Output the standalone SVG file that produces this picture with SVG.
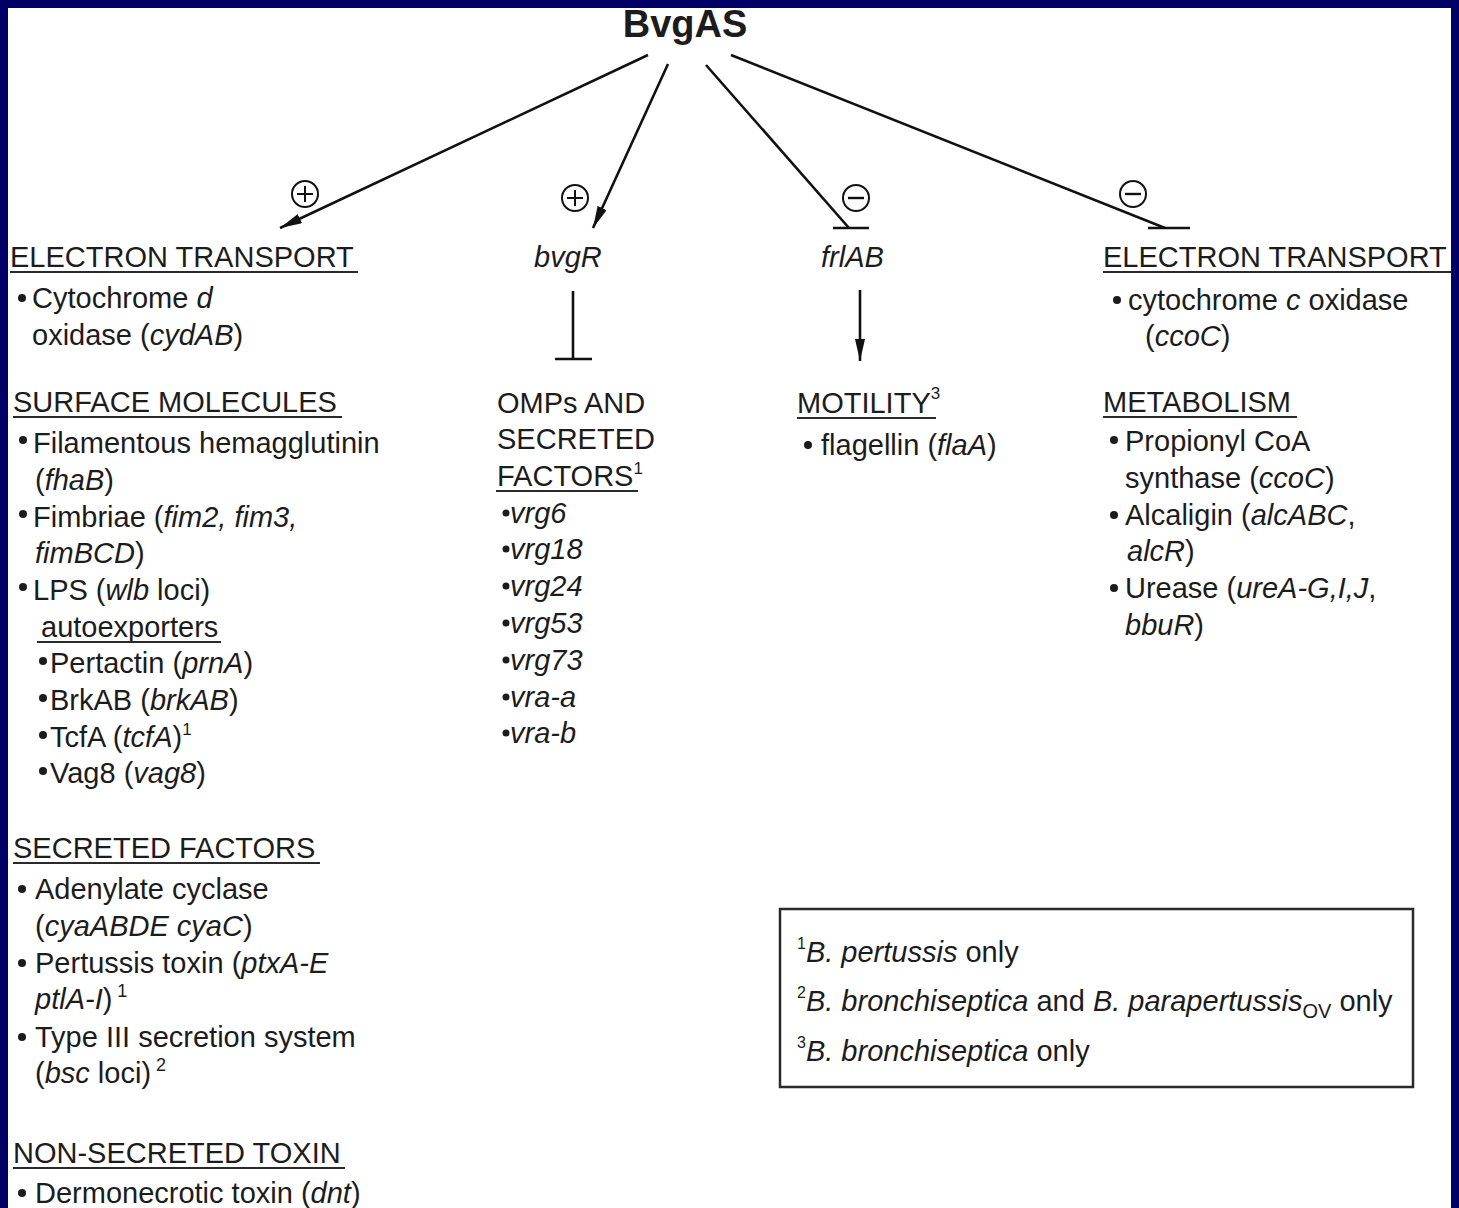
<svg xmlns="http://www.w3.org/2000/svg" width="1459" height="1208" viewBox="0 0 1459 1208">
  <defs>
    <style>
      .t { font-family: "Liberation Sans", Arial, sans-serif; font-size: 29px; fill: #1c1c1c; }
      .i { font-style: italic; }
      .title { font-family: "Liberation Sans", Arial, sans-serif; font-size: 38px; font-weight: bold; fill: #1c1c1c; }
      .ul { stroke: #2a2a2a; stroke-width: 1.8; }
      .edge { stroke: #111; stroke-width: 2.6; fill: none; }
      .sign { stroke: #111; stroke-width: 2; fill: #fff; }
      .dot { fill: #1c1c1c; }
    </style>
    <marker id="arrow" viewBox="0 0 22 10" refX="22" refY="5" markerWidth="22" markerHeight="10" markerUnits="userSpaceOnUse" orient="auto">
      <path d="M0,0 L22,5 L0,10 z" fill="#111"/>
    </marker>
  </defs>

  <!-- page -->
  <rect x="0" y="0" width="1459" height="1208" fill="#000066"/>
  <rect x="8" y="8" width="1443" height="1200" fill="#ffffff"/>

  <!-- regulator -->
  <g id="bvgas">
    <text class="title" x="685" y="37" text-anchor="middle">BvgAS</text>
  </g>

  <!-- connectors -->
  <g id="connectors">
    <line class="edge" x1="648" y1="55" x2="280" y2="228" marker-end="url(#arrow)"/>
    <line class="edge" x1="668" y1="64" x2="593" y2="228" marker-end="url(#arrow)"/>
    <line class="edge" x1="706" y1="65" x2="849" y2="228"/>
    <line class="edge" x1="833" y1="228" x2="869" y2="228" stroke-width="3"/>
    <line class="edge" x1="731" y1="55" x2="1165" y2="228"/>
    <line class="edge" x1="1148" y1="228" x2="1190" y2="228" stroke-width="3"/>
    <!-- bvgR represses -->
    <line class="edge" x1="573" y1="291" x2="573" y2="359"/>
    <line class="edge" x1="555" y1="359" x2="592" y2="359" stroke-width="3"/>
    <!-- frlAB activates -->
    <line class="edge" x1="860" y1="290" x2="860" y2="361" marker-end="url(#arrow)"/>
    <!-- sign labels -->
    <g id="sign-plus-1">
      <circle class="sign" cx="305" cy="194" r="13"/>
      <path d="M297,194 H313 M305,186 V202" stroke="#111" stroke-width="2"/>
    </g>
    <g id="sign-plus-2">
      <circle class="sign" cx="575" cy="198" r="13"/>
      <path d="M567,198 H583 M575,190 V206" stroke="#111" stroke-width="2"/>
    </g>
    <g id="sign-minus-1">
      <circle class="sign" cx="856" cy="198" r="13"/>
      <path d="M848,198 H864" stroke="#111" stroke-width="2.4"/>
    </g>
    <g id="sign-minus-2">
      <circle class="sign" cx="1133" cy="194" r="13"/>
      <path d="M1125,194 H1141" stroke="#111" stroke-width="2.4"/>
    </g>
  </g>

  <!-- Bvg+ activated genes -->
  <g id="node-activated">
    <text class="t" x="10" y="267">ELECTRON TRANSPORT</text>
    <line class="ul" x1="10" y1="272" x2="358" y2="272"/>
    <circle class="dot" cx="22" cy="298" r="4"/>
    <text class="t" x="32" y="308">Cytochrome <tspan class="i">d</tspan></text>
    <text class="t" x="32" y="345">oxidase (<tspan class="i">cydAB</tspan>)</text>

    <text class="t" x="13" y="412">SURFACE MOLECULES</text>
    <line class="ul" x1="13" y1="417" x2="342" y2="417"/>
    <circle class="dot" cx="23" cy="440" r="4"/>
    <text class="t" x="33" y="453">Filamentous hemagglutinin</text>
    <text class="t" x="35" y="490">(<tspan class="i">fhaB</tspan>)</text>
    <circle class="dot" cx="23" cy="514" r="4"/>
    <text class="t" x="33" y="527">Fimbriae (<tspan class="i">fim2, fim3,</tspan></text>
    <text class="t" x="35" y="563"><tspan class="i">fimBCD</tspan>)</text>
    <circle class="dot" cx="23" cy="587" r="4"/>
    <text class="t" x="33" y="600">LPS (<tspan class="i">wlb</tspan> loci)</text>
    <text class="t" x="41" y="637">autoexporters</text>
    <line class="ul" x1="37" y1="642" x2="221" y2="642"/>
    <circle class="dot" cx="43" cy="661" r="4"/>
    <text class="t" x="50" y="673">Pertactin (<tspan class="i">prnA</tspan>)</text>
    <circle class="dot" cx="43" cy="698" r="4"/>
    <text class="t" x="50" y="710">BrkAB (<tspan class="i">brkAB</tspan>)</text>
    <circle class="dot" cx="43" cy="735" r="4"/>
    <text class="t" x="50" y="747">TcfA (<tspan class="i">tcfA</tspan>)<tspan font-size="17" dy="-12">1</tspan></text>
    <circle class="dot" cx="43" cy="771" r="4"/>
    <text class="t" x="50" y="783">Vag8 (<tspan class="i">vag8</tspan>)</text>

    <text class="t" x="13" y="858">SECRETED FACTORS</text>
    <line class="ul" x1="13" y1="863" x2="320" y2="863"/>
    <circle class="dot" cx="22" cy="889" r="4"/>
    <text class="t" x="35" y="899">Adenylate cyclase</text>
    <text class="t" x="35" y="936">(<tspan class="i">cyaABDE cyaC</tspan>)</text>
    <circle class="dot" cx="22" cy="963" r="4"/>
    <text class="t" x="35" y="973">Pertussis toxin (<tspan class="i">ptxA-E</tspan></text>
    <text class="t" x="35" y="1009"><tspan class="i">ptlA-I</tspan>)<tspan font-size="18" dy="-12"> 1</tspan></text>
    <circle class="dot" cx="22" cy="1037" r="4"/>
    <text class="t" x="35" y="1047">Type III secretion system</text>
    <text class="t" x="35" y="1083">(<tspan class="i">bsc</tspan> loci)<tspan font-size="18" dy="-12"> 2</tspan></text>

    <text class="t" x="13" y="1163">NON-SECRETED TOXIN</text>
    <line class="ul" x1="13" y1="1168" x2="345" y2="1168"/>
    <circle class="dot" cx="22" cy="1193" r="4"/>
    <text class="t" x="35" y="1203">Dermonecrotic toxin (<tspan class="i">dnt</tspan>)</text>
  </g>

  <!-- bvgR and its targets -->
  <g id="node-bvgr">
    <text class="t i" x="534" y="267">bvgR</text>
  </g>
  <g id="node-omps">
    <text class="t" x="497" y="413">OMPs AND</text>
    <text class="t" x="497" y="449">SECRETED</text>
    <text class="t" x="497" y="486">FACTORS<tspan font-size="17" dy="-12">1</tspan></text>
    <line class="ul" x1="496" y1="491" x2="638" y2="491"/>
    <circle class="dot" cx="506" cy="513" r="3.5"/>
    <text class="t i" x="510" y="523">vrg6</text>
    <circle class="dot" cx="506" cy="549" r="3.5"/>
    <text class="t i" x="510" y="559">vrg18</text>
    <circle class="dot" cx="506" cy="586" r="3.5"/>
    <text class="t i" x="510" y="596">vrg24</text>
    <circle class="dot" cx="506" cy="623" r="3.5"/>
    <text class="t i" x="510" y="633">vrg53</text>
    <circle class="dot" cx="506" cy="660" r="3.5"/>
    <text class="t i" x="510" y="670">vrg73</text>
    <circle class="dot" cx="506" cy="697" r="3.5"/>
    <text class="t i" x="510" y="707">vra-a</text>
    <circle class="dot" cx="506" cy="733" r="3.5"/>
    <text class="t i" x="510" y="743">vra-b</text>
  </g>

  <!-- frlAB and motility -->
  <g id="node-frlab">
    <text class="t i" x="821" y="267">frlAB</text>
  </g>
  <g id="node-motility">
    <text class="t" x="797" y="413">MOTILITY<tspan font-size="17" dy="-14">3</tspan></text>
    <line class="ul" x1="797" y1="418" x2="936" y2="418"/>
    <circle class="dot" cx="808" cy="445" r="4"/>
    <text class="t" x="821" y="455">flagellin (<tspan class="i">flaA</tspan>)</text>
  </g>

  <!-- Bvg+ repressed genes -->
  <g id="node-repressed">
    <text class="t" x="1103" y="267">ELECTRON TRANSPORT</text>
    <line class="ul" x1="1103" y1="272" x2="1451" y2="272"/>
    <circle class="dot" cx="1117" cy="300" r="4"/>
    <text class="t" x="1128" y="310">cytochrome <tspan class="i">c</tspan> oxidase</text>
    <text class="t" x="1145" y="346">(<tspan class="i">ccoC</tspan>)</text>

    <text class="t" x="1103" y="412">METABOLISM</text>
    <line class="ul" x1="1103" y1="417" x2="1297" y2="417"/>
    <circle class="dot" cx="1114" cy="440" r="4"/>
    <text class="t" x="1125" y="451">Propionyl CoA</text>
    <text class="t" x="1125" y="488">synthase (<tspan class="i">ccoC</tspan>)</text>
    <circle class="dot" cx="1114" cy="515" r="4"/>
    <text class="t" x="1125" y="525">Alcaligin (<tspan class="i">alcABC</tspan>,</text>
    <text class="t" x="1127" y="561"><tspan class="i">alcR</tspan>)</text>
    <circle class="dot" cx="1114" cy="588" r="4"/>
    <text class="t" x="1125" y="598">Urease (<tspan class="i">ureA-G,I,J</tspan>,</text>
    <text class="t" x="1125" y="635"><tspan class="i">bbuR</tspan>)</text>
  </g>

  <!-- footnotes -->
  <g id="node-key">
    <rect x="780" y="909" width="633" height="178" fill="#ffffff" stroke="#2a2a2a" stroke-width="2.5"/>
    <text class="t" x="797" y="962"><tspan font-size="16" dy="-13">1</tspan><tspan class="i" dy="13">B. pertussis</tspan> only</text>
    <text class="t" x="797" y="1011"><tspan font-size="16" dy="-13">2</tspan><tspan class="i" dy="13">B. bronchiseptica</tspan> and <tspan class="i">B. parapertussis</tspan><tspan font-size="20" dy="7">OV</tspan><tspan dy="-7"> only</tspan></text>
    <text class="t" x="797" y="1061"><tspan font-size="16" dy="-13">3</tspan><tspan class="i" dy="13">B. bronchiseptica</tspan> only</text>
  </g>
</svg>
